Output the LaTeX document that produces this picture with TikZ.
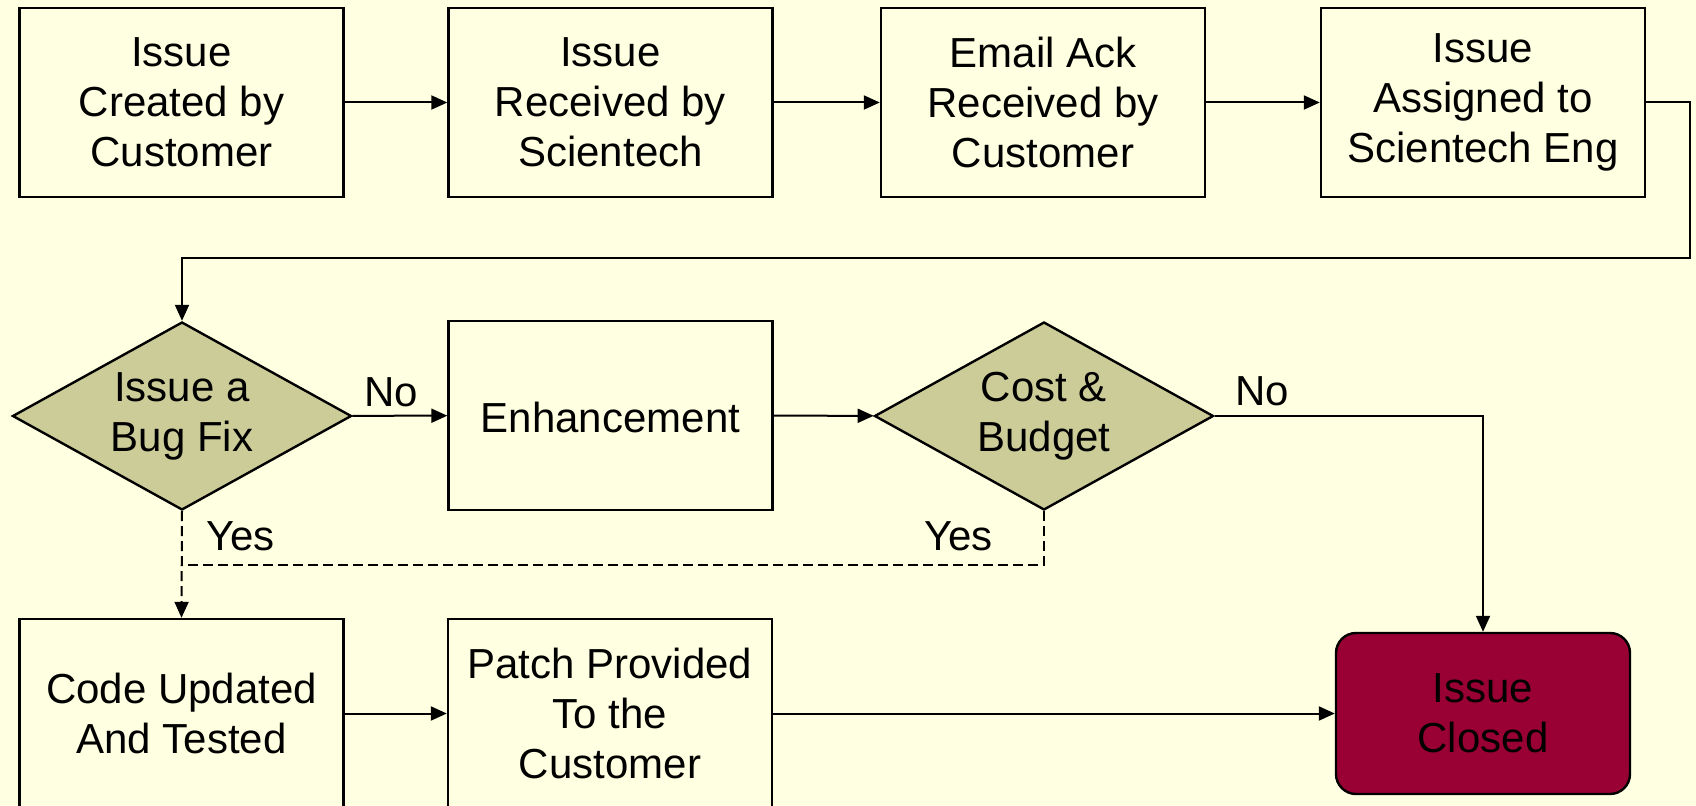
\documentclass[tikz,border=0pt]{standalone}
\usepackage{fontspec}
\usepackage{xcolor}
\usepackage{tikz}
\setmainfont{Liberation Sans}
\usetikzlibrary{shapes.geometric,arrows.meta}

\definecolor{paper}{HTML}{FFFFE1}
\definecolor{decide}{HTML}{CCCC99}
\definecolor{closedred}{HTML}{990033}

\begin{document}
\begin{tikzpicture}[x=0.5pt,y=-0.5pt,
        font=\fontsize{21}{25}\selectfont,
        stage/.style={draw,line width=1.2pt,fill=paper,minimum width=162pt,minimum height=94.5pt,align=center,inner sep=0pt,
            execute at begin node=\rule{0pt}{17.5pt}},
        choice/.style={diamond,draw,line width=1.2pt,fill=decide,minimum width=169.5pt,minimum height=94pt,aspect=1.8,align=center,inner sep=0pt,
            execute at begin node=\rule{0pt}{17.5pt}},
        link/.style={line width=1pt,-{Triangle[length=8pt,width=7pt]}},
        yesline/.style={line width=1pt,dash pattern=on 5pt off 2.5pt}]

        % Draw background
        \fill[paper] (0,0) rectangle (1696,806);
        \useasboundingbox (0,0) rectangle (1696,806);

        % Draw top row
        \node[stage] (created) at (181.5,102.5) {Issue\\Created by\\Customer};
        \node[stage] (received) at (610.5,102.5) {Issue\\Received by\\Scientech};
        \node[stage] (ack) at (1043,102.5) {Email Ack\\Received by\\Customer};
        \node[stage] (assigned) at (1483,102.5) {Issue\\Assigned to\\Scientech Eng};

        % Draw decisions
        \node[choice] (bugfix) at (182,416) {Issue a\\Bug Fix};
        \node[stage] (enhance) at (610.5,415.5) {Enhancement};
        \node[choice] (budget) at (1044,416) {Cost \&\\Budget};

        % Draw bottom row
        \node[stage] (coded) at (181.5,713.5) {Code Updated\\And Tested};
        \node[stage] (patch) at (610,713.5) {Patch Provided\\To the\\Customer};
        \node[stage,rounded corners=10pt,fill=closedred,minimum width=147pt,minimum height=80.5pt] (closed) at (1483,713.5) {Issue\\Closed};

        \coordinate (wrap) at (1690,258);
        \coordinate (join) at (182,565);

        % Draw connectors
        \draw[link] (created) -- (received);
        \draw[link] (received) -- (ack);
        \draw[link] (ack) -- (assigned);
        \draw[link] (assigned.east) -| (wrap) -| (bugfix.north);
        \draw[link] (bugfix) -- (enhance);
        \draw[link] (enhance) -- (budget);
        \draw[link] (budget.east) -| (closed.north);
        \draw[link,dash pattern=on 5pt off 2.5pt] (bugfix.south) -- (coded.north);
        \draw[yesline] (budget.south) |- (join);
        \draw[link] (coded) -- (patch);
        \draw[link] (patch) -- (closed);

        % Labels
        \node[anchor=base west] (nofix) at (357,407) {No};
        \node[anchor=base west] (nobudget) at (1228,406) {No};
        \node[anchor=base west] (yesfix) at (199,551) {Yes};
        \node[anchor=base east] (yesbudget) at (1000,551) {Yes};
    \end{tikzpicture}
\end{document}
